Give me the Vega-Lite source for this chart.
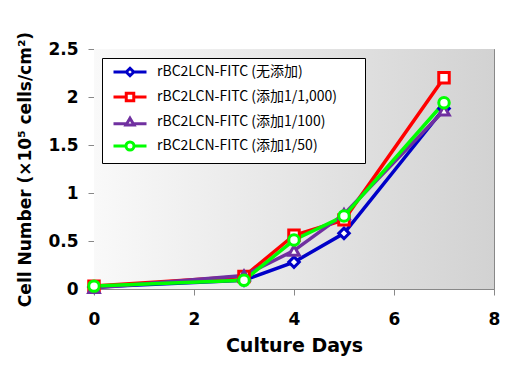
{
  "$schema": "https://vega.github.io/schema/vega-lite/v6.json",
  "width": 400,
  "height": 240,
  "autosize": {"type": "none"},
  "padding": {"left": 94, "top": 49, "right": 25, "bottom": 77},
  "background": "white",
  "config": {
    "view": {"stroke": "#888888", "strokeWidth": 1},
    "font": "DejaVu Sans"
  },
  "data": {
    "values": [
      {"series": "rBC2LCN-FITC (无添加)", "day": 0, "value": 0.02},
      {"series": "rBC2LCN-FITC (无添加)", "day": 3, "value": 0.09},
      {"series": "rBC2LCN-FITC (无添加)", "day": 4, "value": 0.28},
      {"series": "rBC2LCN-FITC (无添加)", "day": 5, "value": 0.58},
      {"series": "rBC2LCN-FITC (无添加)", "day": 7, "value": 1.88},
      {"series": "rBC2LCN-FITC (添加1/1,000)", "day": 0, "value": 0.03},
      {"series": "rBC2LCN-FITC (添加1/1,000)", "day": 3, "value": 0.13},
      {"series": "rBC2LCN-FITC (添加1/1,000)", "day": 4, "value": 0.56},
      {"series": "rBC2LCN-FITC (添加1/1,000)", "day": 5, "value": 0.72},
      {"series": "rBC2LCN-FITC (添加1/1,000)", "day": 7, "value": 2.2},
      {"series": "rBC2LCN-FITC (添加1/100)", "day": 0, "value": 0.01},
      {"series": "rBC2LCN-FITC (添加1/100)", "day": 3, "value": 0.14},
      {"series": "rBC2LCN-FITC (添加1/100)", "day": 4, "value": 0.4},
      {"series": "rBC2LCN-FITC (添加1/100)", "day": 5, "value": 0.78},
      {"series": "rBC2LCN-FITC (添加1/100)", "day": 7, "value": 1.86},
      {"series": "rBC2LCN-FITC (添加1/50)", "day": 0, "value": 0.03},
      {"series": "rBC2LCN-FITC (添加1/50)", "day": 3, "value": 0.09},
      {"series": "rBC2LCN-FITC (添加1/50)", "day": 4, "value": 0.51},
      {"series": "rBC2LCN-FITC (添加1/50)", "day": 5, "value": 0.76},
      {"series": "rBC2LCN-FITC (添加1/50)", "day": 7, "value": 1.94}
    ]
  },
  "layer": [
    {
      "mark": {
        "type": "rect",
        "color": {
          "gradient": "linear",
          "x1": 0, "y1": 0, "x2": 1, "y2": 0,
          "stops": [
            {"offset": 0, "color": "#f9f9f9"},
            {"offset": 1, "color": "#d2d2d2"}
          ]
        }
      },
      "encoding": {
        "x": {"datum": 0, "type": "quantitative"},
        "x2": {"datum": 8},
        "y": {"datum": 0, "type": "quantitative"},
        "y2": {"datum": 2.5}
      }
    },
    {
      "mark": {"type": "line", "strokeWidth": 3.5},
      "encoding": {
        "x": {
          "field": "day", "type": "quantitative",
          "scale": {"domain": [0, 8], "nice": false},
          "axis": {
            "title": "Culture Days",
            "values": [0, 2, 4, 6, 8],
            "grid": false,
            "domainColor": "#888888",
            "tickColor": "#888888",
            "tickSize": 6,
            "labelFlush": false,
            "labelFontSize": 17,
            "labelFontWeight": "bold",
            "labelColor": "black",
            "labelPadding": 16,
            "titleFontSize": 19,
            "titleFontWeight": "bold",
            "titleColor": "black",
            "titlePadding": 9
          }
        },
        "y": {
          "field": "value", "type": "quantitative",
          "scale": {"domain": [0, 2.5], "nice": false},
          "axis": {
            "title": "Cell Number (×10⁵ cells/cm²)",
            "values": [0, 0.5, 1, 1.5, 2, 2.5],
            "format": ".1~f",
            "grid": true,
            "gridColor": "#888888",
            "domainColor": "#888888",
            "tickColor": "#888888",
            "tickSize": 6,
            "labelFontSize": 17,
            "labelFontWeight": "bold",
            "labelColor": "black",
            "labelPadding": 10,
            "titleFontSize": 17,
            "titleFontWeight": "bold",
            "titleColor": "black",
            "titlePadding": 13
          }
        },
        "color": {
          "field": "series", "type": "nominal",
          "scale": {
            "domain": ["rBC2LCN-FITC (无添加)", "rBC2LCN-FITC (添加1/1,000)", "rBC2LCN-FITC (添加1/100)", "rBC2LCN-FITC (添加1/50)"],
            "range": ["#0000c8", "#ff0000", "#7030a0", "#00ff00"]
          },
          "legend": null
        }
      }
    },
    {
      "mark": {"type": "point", "filled": false, "fill": "white", "fillOpacity": 1, "opacity": 1, "strokeWidth": 3, "size": 110},
      "encoding": {
        "x": {"field": "day", "type": "quantitative"},
        "y": {"field": "value", "type": "quantitative"},
        "color": {
          "field": "series", "type": "nominal",
          "scale": {
            "domain": ["rBC2LCN-FITC (无添加)", "rBC2LCN-FITC (添加1/1,000)", "rBC2LCN-FITC (添加1/100)", "rBC2LCN-FITC (添加1/50)"],
            "range": ["#0000c8", "#ff0000", "#7030a0", "#00ff00"]
          },
          "legend": null
        },
        "shape": {
          "field": "series", "type": "nominal",
          "scale": {
            "domain": ["rBC2LCN-FITC (无添加)", "rBC2LCN-FITC (添加1/1,000)", "rBC2LCN-FITC (添加1/100)", "rBC2LCN-FITC (添加1/50)"],
            "range": ["diamond", "square", "triangle-up", "circle"]
          },
          "legend": null
        }
      }
    },
    {
      "mark": {"type": "point", "filled": false, "opacity": 0, "strokeWidth": 3},
      "encoding": {
        "x": {"field": "day", "type": "quantitative"},
        "y": {"field": "value", "type": "quantitative"},
        "color": {
          "field": "series", "type": "nominal",
          "scale": {
            "domain": ["rBC2LCN-FITC (无添加)", "rBC2LCN-FITC (添加1/1,000)", "rBC2LCN-FITC (添加1/100)", "rBC2LCN-FITC (添加1/50)"],
            "range": ["#0000c8", "#ff0000", "#7030a0", "#00ff00"]
          },
          "legend": {
            "title": null,
            "orient": "none",
            "legendX": 8,
            "legendY": 9,
            "padding": 7,
            "strokeColor": "black",
            "fillColor": "white",
            "symbolSize": 100,
            "symbolOffset": 14,
            "symbolOpacity": 1,
            "symbolFillColor": "white",
            "symbolStrokeWidth": 3,
            "labelFontSize": 14,
            "labelFont": "Noto Sans CJK SC",
            "labelColor": "black",
            "labelOffset": 20,
            "rowPadding": 5,
            "labelLimit": 400,
            "labelExpr": "datum.label + '\u2800\u2800'"
          }
        },
        "shape": {
          "field": "series", "type": "nominal",
          "scale": {
            "domain": ["rBC2LCN-FITC (无添加)", "rBC2LCN-FITC (添加1/1,000)", "rBC2LCN-FITC (添加1/100)", "rBC2LCN-FITC (添加1/50)"],
            "range": [
              "M-3.3,0H-0.75M0.75,0H3.3M0,-0.75L0.75,0L0,0.75L-0.75,0Z",
              "M-3.3,0H-0.75M0.75,0H3.3M-0.75,-0.75H0.75V0.75H-0.75Z",
              "M-3.3,0.35H-0.8M0.8,0.35H3.3M0,-0.75L0.8,0.6H-0.8Z",
              "M-3.3,0H-0.8M0.8,0H3.3M-0.8,0A0.8,0.8,0,1,0,0.8,0A0.8,0.8,0,1,0,-0.8,0Z"
            ]
          },
          "legend": {
            "title": null,
            "orient": "none",
            "legendX": 8,
            "legendY": 9,
            "padding": 7,
            "strokeColor": "black",
            "fillColor": "white",
            "symbolSize": 100,
            "symbolOffset": 14,
            "symbolOpacity": 1,
            "symbolFillColor": "white",
            "symbolStrokeWidth": 3,
            "labelFontSize": 14,
            "labelFont": "Noto Sans CJK SC",
            "labelColor": "black",
            "labelOffset": 20,
            "rowPadding": 5,
            "labelLimit": 400,
            "labelExpr": "datum.label + '\u2800\u2800'"
          }
        }
      }
    }
  ],
  "resolve": {"scale": {"shape": "independent", "color": "independent"}}
}
